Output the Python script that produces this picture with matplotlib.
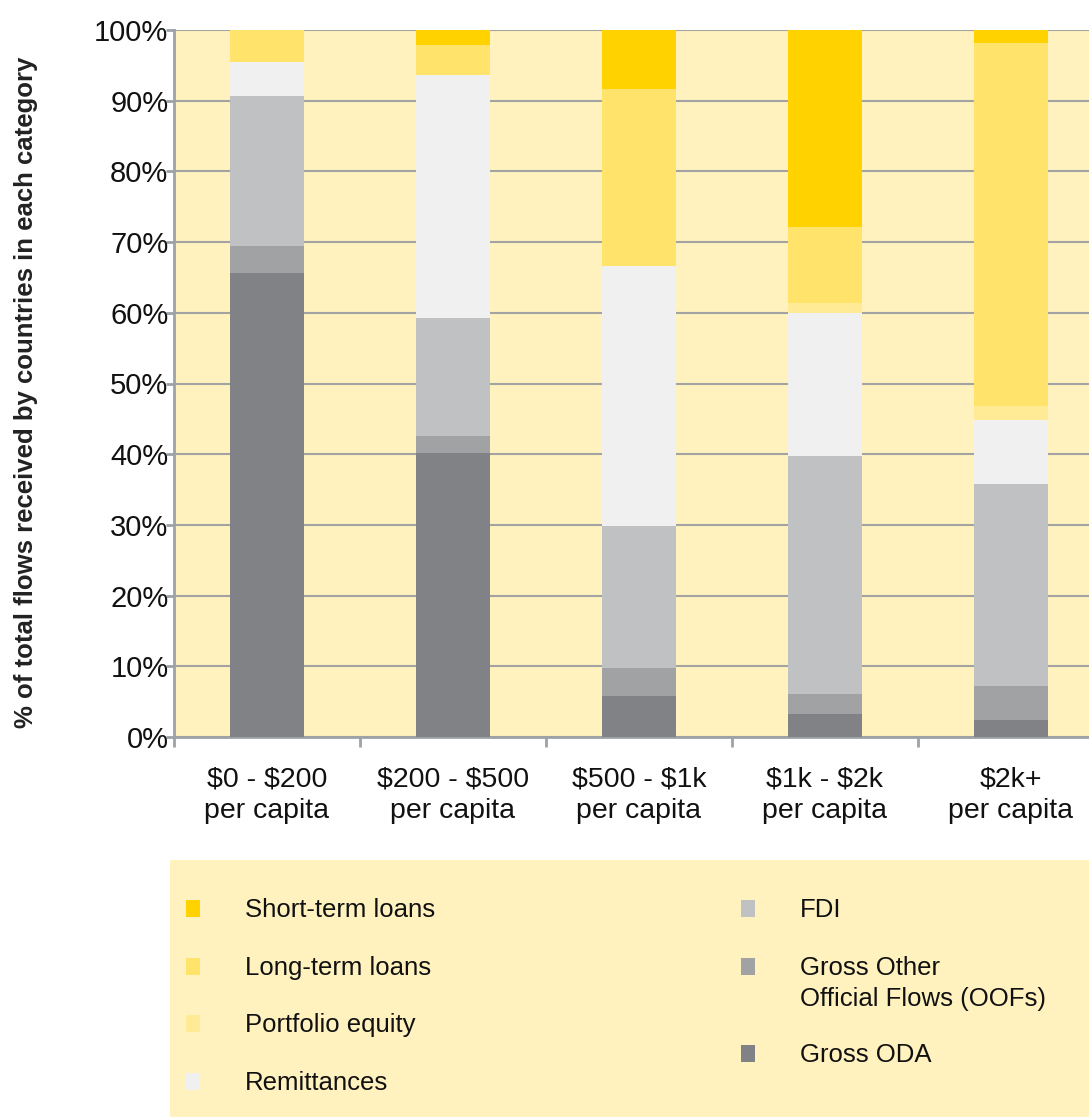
import numpy as np
import matplotlib
matplotlib.use('Agg')
from matplotlib import pyplot as plt
from matplotlib.patches import Rectangle

categories = ['\\$0 - \\$200\nper capita', '\\$200 - \\$500\nper capita', '\\$500 - \\$1k\nper capita',
              '\\$1k - \\$2k\nper capita', '\\$2k+\nper capita']

# shares in %, bottom to top
gross_oda = [65.6, 40.1, 5.8, 3.2, 2.4]
gross_oofs = [3.8, 2.5, 3.9, 2.9, 4.8]
fdi = [21.2, 16.7, 20.1, 33.6, 28.6]
remittances = [4.9, 34.4, 36.8, 20.3, 9.1]
portfolio_equity = [0.0, 0.0, 0.0, 1.4, 1.9]
long_term_loans = [4.5, 4.2, 25.1, 10.7, 51.4]
short_term_loans = [0.0, 2.1, 8.3, 27.9, 1.8]

series = [
    ('Gross ODA', gross_oda, '#818286'),
    ('Gross Other\nOfficial Flows (OOFs)', gross_oofs, '#a1a2a4'),
    ('FDI', fdi, '#c0c1c3'),
    ('Remittances', remittances, '#f0f0f0'),
    ('Portfolio equity', portfolio_equity, '#ffeb96'),
    ('Long-term loans', long_term_loans, '#ffe36b'),
    ('Short-term loans', short_term_loans, '#ffd200'),
]

bg = '#fff2bf'
grid_col = '#a3a3a3'
plt.rcParams['font.family'] = ['Liberation Sans', 'DejaVu Sans']

fig = plt.figure(figsize=(10.89, 11.17), dpi=100)
ax = fig.add_axes([174 / 1089, 1 - 737 / 1117, 1 - 174 / 1089, (737 - 30) / 1117])
ax.set_facecolor(bg)

x = np.arange(len(categories))
bottom = np.zeros(len(categories))
for name, vals, col in series:
    ax.bar(x, vals, 0.4, bottom=bottom, color=col, edgecolor='none', zorder=3)
    bottom += np.array(vals)

ax.set_yticks(np.arange(0, 101, 10))
ax.set_yticklabels(['%d%%' % v for v in range(0, 101, 10)], fontsize=21, color='#111111')
ax.yaxis.grid(True, color=grid_col, linewidth=1.5, zorder=1)
ax.set_axisbelow(True)

ax.set_xticks(x)
ax.set_xticklabels(categories, fontsize=20.5, color='#111111', linespacing=1.3)
ax.set_xticks(np.arange(-0.5, 4.0, 1), minor=True)
ax.tick_params(axis='x', which='major', length=0, pad=21)
ax.tick_params(axis='x', which='minor', length=7, width=2, color='#9da2a8')
ax.tick_params(axis='y', length=6, width=2, color='#9da2a8', pad=-2)
ax.set_ylim(0, 100)
ax.set_xlim(-0.5, 4.42)

for s in ['top', 'right']:
    ax.spines[s].set_visible(False)
ax.spines['left'].set_color('#9da2a8')
ax.spines['left'].set_linewidth(2)
ax.spines['bottom'].set_color('#9da2a8')
ax.spines['bottom'].set_linewidth(2)

fig.text(26 / 1089, 1 - 392 / 1117, '% of total flows received by countries in each category',
         rotation=90, va='center', ha='center', fontsize=18.5, fontweight='bold', color='#222222')

# legend panel
fig.patches.append(Rectangle((170 / 1089, 0), 1 - 170 / 1089, (1117 - 860) / 1117,
                             transform=fig.transFigure, facecolor=bg, edgecolor='none'))

left_col = ['Short-term loans', 'Long-term loans', 'Portfolio equity', 'Remittances']
right_col = ['FDI', 'Gross Other\nOfficial Flows (OOFs)', 'Gross ODA']
colors = {name: col for name, vals, col in series}
left_y = [909, 967, 1024, 1082]
right_y = [909, 967, 1054]


def legend_item(name, px, py):
    fig.patches.append(Rectangle((px / 1089, 1 - (py + 8) / 1117), 14 / 1089, 17 / 1117,
                                 transform=fig.transFigure, facecolor=colors[name],
                                 edgecolor='none'))
    fig.text((px + 59) / 1089, 1 - (py - 11) / 1117, name, fontsize=18.5, va='top',
             ha='left', color='#111111', linespacing=1.35)


for name, py in zip(left_col, left_y):
    legend_item(name, 186, py)
for name, py in zip(right_col, right_y):
    legend_item(name, 741, py)

plt.savefig('out.png', dpi=100, facecolor='white')
